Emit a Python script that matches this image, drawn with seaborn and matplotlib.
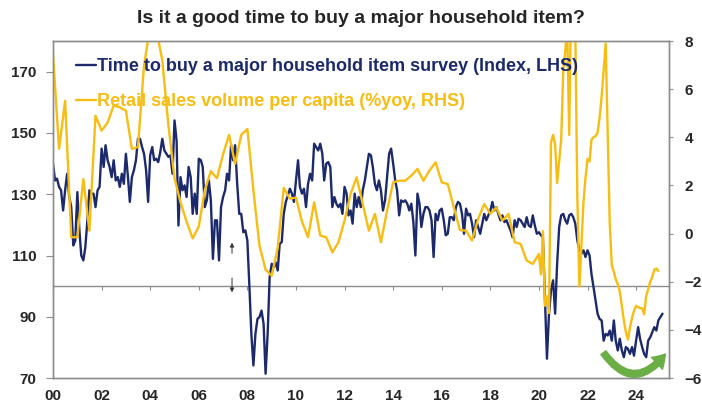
import pandas as pd
import seaborn as sns
import matplotlib.pyplot as plt
import matplotlib.dates as mdates
from matplotlib.patches import FancyArrowPatch

# survey index (LHS), monthly from Jan 2000
survey_2000_08 = [140, 134.5, 135.1, 132.4, 131.3, 124.7, 131.3, 136.7, 129.1, 125.8,
                  113.3, 114.9, 130.7, 118.2, 110, 108.4, 112.7, 121.5, 131.3, 130.2,
                  130.2, 125.8, 131.3, 132.4, 144.9, 138.9, 146, 141.1, 138.9, 135.6,
                  141.1, 134.5, 135.6, 132.4, 136.7, 133.4, 143.2, 135.6, 127.5, 135.6,
                  137.8, 141.1, 148.1, 148.1, 145.4, 143.2, 137.8, 127.5, 142.7, 145.4,
                  141.1, 141.6, 140.5, 143.8, 148.1, 144.3, 143.2, 142.2, 142.7, 136.7,
                  154.1, 147.5, 119.8, 135.6, 131.3, 132.9, 129.1, 138.9, 135.6, 123.6,
                  130.2, 123.6, 141.6, 141.1, 138.9, 125.8, 128, 134.5, 128, 108.9,
                  121.5, 121.5, 108.4, 125.8, 129.1, 131.3, 136.7, 134.5, 146, 141.1,
                  146, 133.4, 123.6, 123.6, 117.6, 118.2, 114.9, 99.7, 84.4, 74.1,
                  84.4, 89.3]
survey_2008_16 = [89.9, 92.0, 87.7, 71.4, 84.4, 102.9, 107.3, 106.2, 107.8, 105.1,
                  113.8, 114.4, 123.6, 127.5, 129.6, 131.8, 130.2, 127.5, 134.5, 141.1,
                  132.4, 130.2, 131.8, 125.8, 133.4, 136.7, 134.5, 146.5, 145.4, 144.3,
                  146.5, 143.2, 134.5, 140, 140.5, 138.9, 125.8, 129.1, 126.9, 125.8,
                  126.9, 123.6, 132.4, 130.2, 123.1, 124.7, 120.4, 130.2, 125.8, 129.1,
                  125.8, 131.3, 134.5, 138.9, 143.2, 142.7, 138.9, 133.4, 131.3, 134.5,
                  131.3, 124.7, 128, 135.6, 143.2, 144.9, 140, 134.5, 131.3, 123.1,
                  128, 127.5, 128, 126.9, 124.7, 126.9, 120.9, 110, 130.2, 126.9,
                  119.3, 123.6, 125.8, 125.8, 124.7, 121.5, 109.5, 123.6, 121.5, 124.7,
                  125.3, 121.5, 116.6, 117.1, 122.5, 122.5, 121.5, 125.8, 127.5, 126.9,
                  123.6]
survey_2016_25 = [117.1, 125.3, 123.1, 123.6, 120.4, 116, 121.5, 119.3, 117.1, 120.4,
                  123.6, 121.5, 123.1, 124.7, 127.5, 124.7, 125.8, 123.6, 121.5, 123.1,
                  120.9, 121.5, 119.8, 118.2, 116, 121.5, 119.3, 122, 121.5, 120.4,
                  119.3, 122.5, 119.8, 119.3, 123.1, 119.8, 117.1, 117.6, 116.6, 116,
                  95.3, 76.3, 91, 98.6, 101.9, 91, 107.3, 119.3, 123.1, 123.6,
                  121.5, 120.4, 123.1, 123.6, 122.5, 120.4, 114.9, 111.7, 110.6, 111.7,
                  109.5, 111.7, 110, 104, 99.7, 95.3, 91, 89.3, 88.8, 82.2,
                  84.4, 83.9, 85.5, 82.2, 88.8, 82.2, 79, 82.8, 79, 76.8,
                  80.1, 79.5, 77.9, 80.1, 77.3, 82.2, 86.6, 82.8, 80.1, 77.9,
                  76.8, 82.2, 83.3, 85, 86.6, 85.5, 88.8, 89.9, 91]

# retail sales volume per capita %yoy (RHS): quarterly 2000-2019, monthly 2020-2024
retail_qtr = [7.46, 3.52, 5.52, -0.15, -0.15, 2.27, 0.12, 4.9, 4.28, 4.62,
              5.32, 5.25, 5.11, 3.52, 3.6, 7.0, 8.6, 8.5, 7.2, 4.5,
              2.3, 1.3, 0.5, -0.2, 0.3, 1.8, 2.6, 2.3, 3.3, 4.1,
              2.9, 4.1, 4.35, 1.8, -0.5, -1.5, -1.75, -0.6, 1.9, 1.45,
              1.5, 0.5, -0.15, 1.3, -0.08, -0.15, -0.78, -0.36, 0.54, 1.65,
              2.34, 1.23, 0.12, 0.82, -0.36, 0.95, 2.13, 2.2, 2.2, 2.41,
              2.69, 2.2, 2.62, 2.96, 2.13, 2.06, 1.09, 0.15, 0.12, -0.29,
              0.61, 1.23, 0.82, 1.09, 0.54, 0.82, -0.36, -0.43, -1.12, -1.26]
retail_mth = [-0.85, -1.7, 0.1, -3.0, -2.6, -3.3, 3.8, 4.1, 3.7, 2.1,
              3.0, 3.9, 6.8, 7.6, 8.6, 4.1, 10.5, 10.5, 8.5, 1.5,
              -2.2, -0.5, 1.3, 2.3, 3.1, 3.0, 3.9, 4.0, 4.05, 4.2,
              4.8, 5.7, 6.8, 7.9, 4.0, 0.4, -1.3, -1.6, -1.9, -2.1,
              -2.4, -3.0, -3.6, -4.1, -4.4, -3.9, -3.5, -3.2, -3.0, -3.05,
              -3.1, -3.1, -3.35, -2.6, -2.3, -2.0, -1.8, -1.5, -1.45, -1.55]

year_ticks = list(range(2000, 2025, 2))
year_labels = [f"{y % 100:02d}" for y in year_ticks]
lhs_ticks = [70, 90, 110, 130, 150, 170]
rhs_ticks = [-6, -4, -2, 0, 2, 4, 6, 8]

navy = '#1c2a6b'
gold = '#f7bd12'
grey = '#8c8c8c'

survey = survey_2000_08 + survey_2008_16 + survey_2016_25
survey_df = pd.DataFrame({'date': pd.date_range('2000-01-01', periods=len(survey), freq='MS'),
                          'value': survey})
retail_dates = list(pd.date_range('2000-01-01', periods=len(retail_qtr), freq='QS')) + \
    list(pd.date_range('2020-01-01', periods=len(retail_mth), freq='MS'))
retail_df = pd.DataFrame({'date': retail_dates, 'value': retail_qtr + retail_mth})

sns.set_style('white')
plt.rcParams['font.family'] = ['Liberation Sans', 'DejaVu Sans']
plt.rcParams['font.weight'] = 'bold'

fig, ax = plt.subplots(figsize=(7.02, 4.03), dpi=100)
fig.subplots_adjust(left=0.0755, right=0.953, bottom=0.062, top=0.898)
ax2 = ax.twinx()

sns.lineplot(data=survey_df, x='date', y='value', ax=ax, color=navy, linewidth=1.7)
sns.lineplot(data=retail_df, x='date', y='value', ax=ax2, color=gold, linewidth=1.7)

ax.set_xlim(pd.Timestamp('2000-01-01'), pd.Timestamp('2025-05-10'))
ax.set_ylim(70, 180)
ax2.set_ylim(-6, 8)
ax.set_yticks(lhs_ticks)
ax2.set_yticks(rhs_ticks)
ax.set_xticks([pd.Timestamp(f'{y}-01-01') for y in year_ticks])
ax.set_xticklabels(year_labels)
for a in (ax, ax2):
    a.set_xlabel('')
    a.set_ylabel('')
    for s in a.spines.values():
        s.set_color(grey)
        s.set_linewidth(1)

ax.tick_params(axis='x', length=0, pad=8, labelsize=11)
ax.tick_params(axis='y', length=5, color=grey, pad=7, labelsize=11)
ax2.tick_params(axis='y', length=3, color=grey, pad=8, labelsize=11)

# crossing line at 100 with year ticks
sec = ax.secondary_xaxis(30 / 110)
sec.xaxis.set_major_locator(mdates.YearLocator(2))
sec.xaxis.set_major_formatter(plt.NullFormatter())
sec.tick_params(length=3, color=grey)
for s in sec.spines.values():
    s.set_color(grey)
    s.set_linewidth(1)

ax2.legend([ax.lines[0], ax2.lines[0]],
           ['Time to buy a major household item survey (Index, LHS)',
            'Retail sales volume per capita (%yoy, RHS)'],
           loc='upper left', bbox_to_anchor=(0.037, 0.95), frameon=False,
           fontsize=13, handlelength=1.1, handletextpad=0.1, labelspacing=1.0,
           borderpad=0, borderaxespad=0, labelcolor=[navy, gold])

fig.text(0.514, 0.953, 'Is it a good time to buy a major household item?',
         ha='center', va='center', fontsize=14, fontweight='bold')

# break arrows
ax2.annotate('', xy=(0.2906, 0.41), xytext=(0.2906, 0.362), xycoords='axes fraction',
             arrowprops=dict(arrowstyle='-|>', color='#333333', lw=0.7, mutation_scale=6))
ax2.annotate('', xy=(0.2906, 0.246), xytext=(0.2906, 0.305), xycoords='axes fraction',
             arrowprops=dict(arrowstyle='-|>', color='#333333', lw=0.7, mutation_scale=6))

green = FancyArrowPatch((0.891, 0.082), (0.997, 0.078), transform=ax2.transAxes,
                        connectionstyle='arc3,rad=0.7',
                        arrowstyle='simple,head_length=0.7,head_width=0.9,tail_width=0.35',
                        mutation_scale=13, color='#6aae45', clip_on=False)
ax2.add_patch(green)

fig.savefig('out.png', dpi=100)
